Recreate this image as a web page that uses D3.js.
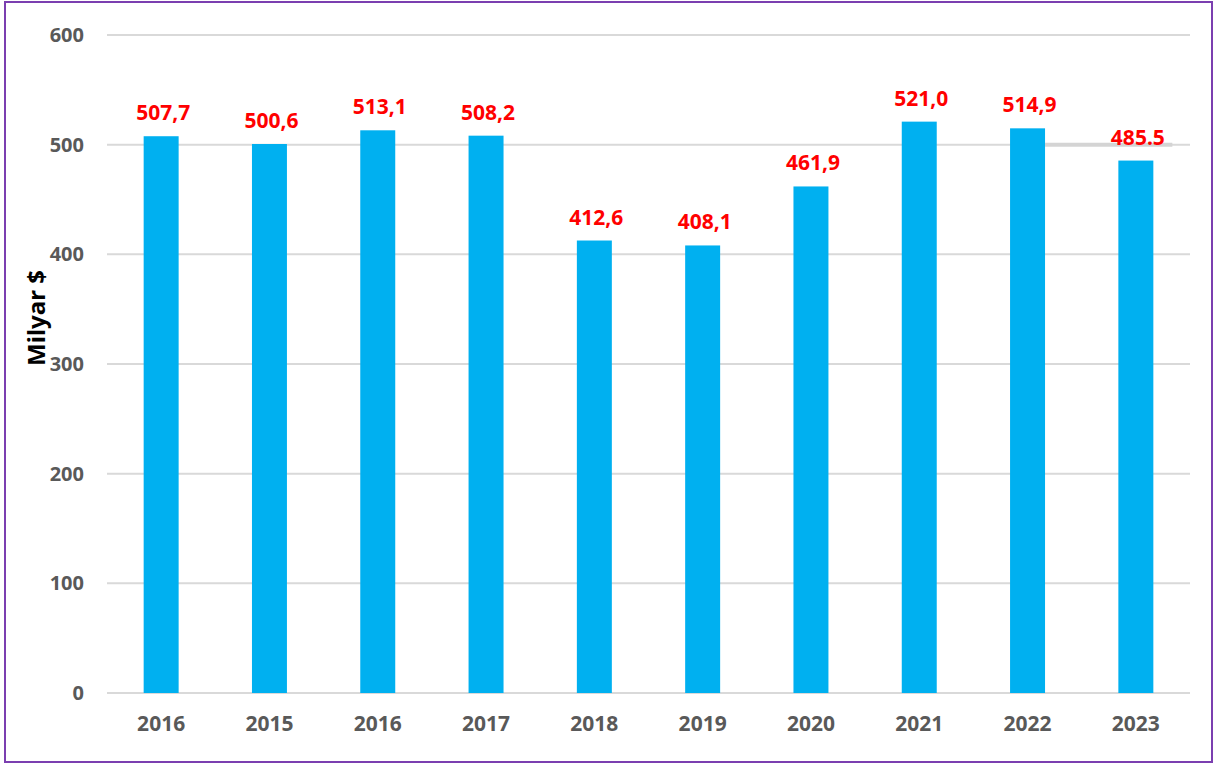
<!DOCTYPE html>
<html>
<head>
<meta charset="utf-8">
<script src="https://cdn.jsdelivr.net/npm/d3@7"></script>
<style>
  html, body { margin: 0; padding: 0; background: #fff; }
  svg { display: block; font-family: "Noto Sans", "Open Sans", sans-serif; }
</style>
</head>
<body>
<div id="chart"></div>
<script>
// yıllar (etiketler, ilk "2016" kaynakta böyle)
const years = ["2016", "2015", "2016", "2017", "2018", "2019", "2020", "2021", "2022", "2023"];
const values = [507.7, 500.6, 513.1, 508.2, 412.6, 408.1, 461.9, 521.0, 514.9, 485.5];
const valueLabels = ["507,7", "500,6", "513,1", "508,2", "412,6", "408,1", "461,9", "521,0", "514,9", "485.5"];
const yTicks = [0, 100, 200, 300, 400, 500, 600];

const W = 1216, H = 765;
const margin = { top: 35, right: 26, bottom: 72, left: 107 };
const width = W - margin.left - margin.right;
const height = H - margin.top - margin.bottom;

const svg = d3.select("#chart").append("svg")
    .attr("width", W)
    .attr("height", H);

// çerçeve
svg.append("rect")
    .attr("x", 5).attr("y", 2)
    .attr("width", 1207).attr("height", 760)
    .attr("fill", "none")
    .attr("stroke", "#7B3FB0")
    .attr("stroke-width", 2);

const g = svg.append("g")
    .attr("transform", `translate(${margin.left},${margin.top})`);

const x = d3.scaleBand()
    .domain(d3.range(years.length))
    .range([0, width])
    .paddingInner(0.677)
    .paddingOuter(0.3385);

const y = d3.scaleLinear()
    .domain([0, 600])
    .range([height, 0]);

// grid çizgileri
g.selectAll(".grid")
    .data(yTicks)
    .enter()
    .append("line")
    .attr("x1", 0).attr("x2", width)
    .attr("y1", d => y(d)).attr("y2", d => y(d))
    .attr("stroke", "#D9D9D9")
    .attr("stroke-width", 2);

// y ekseni
const yAxis = d3.axisLeft(y).tickValues(yTicks).tickSize(0).tickPadding(23);
g.append("g")
    .call(yAxis)
    .call(a => a.select(".domain").remove())
    .selectAll("text")
    .attr("fill", "#595959")
    .attr("font-size", 20)
    .attr("font-weight", "bold")
    .attr("font-family", "'Noto Sans', sans-serif");

// çubuklar
g.selectAll(".bar")
    .data(values)
    .enter()
    .append("rect")
    .attr("class", "bar")
    .attr("x", (d, i) => x(i))
    .attr("y", d => y(d))
    .attr("width", x.bandwidth())
    .attr("height", d => height - y(d))
    .attr("fill", "#00B0F0");

// 2023 etiketinin arkasındaki kalın çizgi parçası
g.append("line")
    .attr("x1", x(8) + x.bandwidth()).attr("x2", x(9) + x.bandwidth() + 19)
    .attr("y1", y(500)).attr("y2", y(500))
    .attr("stroke", "#D4D4D4")
    .attr("stroke-width", 4);

// değer etiketleri
g.selectAll(".label")
    .data(values)
    .enter()
    .append("text")
    .attr("x", (d, i) => x(i) + x.bandwidth() / 2 + 2)
    .attr("y", d => y(d) - 16)
    .attr("text-anchor", "middle")
    .attr("fill", "#FF0000")
    .attr("font-size", 21)
    .attr("font-weight", "bold")
    .text((d, i) => valueLabels[i]);

// x ekseni
const xAxis = d3.axisBottom(x).tickFormat(i => years[i]).tickSize(0).tickPadding(23);
g.append("g")
    .attr("transform", `translate(0,${height})`)
    .call(xAxis)
    .call(a => a.select(".domain").remove())
    .selectAll("text")
    .attr("fill", "#595959")
    .attr("font-size", 21)
    .attr("font-weight", "bold")
    .attr("font-family", "'Noto Sans', sans-serif");

// eksen başlığı
svg.append("text")
    .attr("transform", `translate(45,${318}) rotate(-90)`)
    .attr("text-anchor", "middle")
    .attr("fill", "#000")
    .attr("font-size", 24)
    .attr("font-weight", "bold")
    .text("Milyar $");
</script>
</body>
</html>
